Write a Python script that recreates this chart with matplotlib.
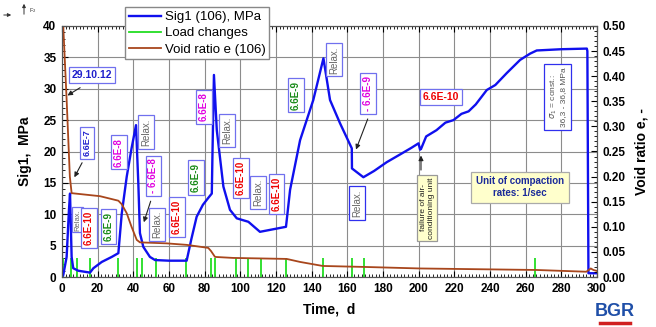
import matplotlib.pyplot as plt
from matplotlib.lines import Line2D
from matplotlib.ticker import MultipleLocator, FormatStrFormatter

plt.rcParams['font.family'] = ['Liberation Sans', 'DejaVu Sans']

# Sig1 (106), MPa
t_sig = [0, 0.7, 2.6, 3.9, 4.5, 5.4, 6.3, 9.1, 15.7, 17.6, 22.3, 27.9, 31.6,
         33.5, 36.3, 39.0, 41.5, 42.8, 43.7, 45.6, 49.3, 52.2, 60, 69.9,
         72.5, 75.5, 79, 82, 84, 84.4, 85.2, 86.8, 90.5, 94.2, 98, 104.5, 111,
         125.6, 127.9, 133.5, 140.9, 146.6, 150.3, 155.9, 162.5, 162.6, 169,
         175, 182.1, 190, 196, 199.9, 200.8, 201.3, 204.2, 210, 215, 219.5,
         224, 228, 232, 238.2, 243, 249.4, 256.9, 262.5, 266.2, 280, 294.3,
         294.6, 295.2, 300]
sig1 = [0, 0.3, 3.2, 10.7, 13.3, 3.2, 1.4, 1.0, 0.7, 1.4, 2.4, 3.2, 3.8,
        10.1, 16.0, 20.5, 24.2, 14.9, 7.0, 4.8, 3.2, 2.7, 2.6, 2.6,
        6.0, 9.6, 11.5, 12.6, 13.3, 20.0, 32.2, 23.4, 14.4, 10.7, 9.35, 8.8, 7.2,
        8.0, 13.9, 21.8, 28.2, 34.85, 28.2, 24.5, 20.5, 17.3, 15.9,
        16.9, 18.3, 19.6, 20.6, 21.3, 20.3, 20.4, 22.4, 23.4, 24.6, 25.0,
        26.0, 26.4, 27.5, 29.8, 30.6, 32.5, 34.6, 35.6, 36.1, 36.3, 36.4,
        36.0, 0.6, 0.6]

# void ratio e (106)
t_e = [0.7, 2.6, 4.4, 5.4, 21.3, 31.6, 33.5, 36.3, 39, 41.9, 43.7, 58.7,
       69.9, 82, 83.5, 85.8, 96, 126, 133.5, 146.2, 170, 200.8, 266, 294,
       296.5, 298, 300]
void_e = [0.5, 0.353, 0.2, 0.167, 0.161, 0.152, 0.145, 0.127, 0.1, 0.074,
          0.069, 0.067, 0.064, 0.058, 0.052, 0.040, 0.038, 0.036, 0.030,
          0.022, 0.020, 0.017, 0.014, 0.0105, 0.017, 0.014, 0.012]

# load changes
t_load = [0.7, 4.9, 8.6, 15.7, 31.6, 41.9, 44.7, 52.5, 69.5, 83.4, 85.8,
          97.6, 104.5, 111.6, 125.4, 146.2, 162.5, 169.5, 265.3]
load_h = 3.0

fig = plt.figure(figsize=(6.56, 3.27), dpi=100)
ax = fig.add_axes([62/656, 1-277/327, 535/656, 251/327])
ax2 = ax.twinx()

ax.vlines(t_load, 0, load_h, color='#22dd22', lw=1.3, zorder=3)
ax.plot(t_sig, sig1, color='#1010ee', lw=1.7, zorder=4)
ax2.plot(t_e, void_e, color='#a8461c', lw=1.3)

ax.set_xlim(0, 300)
ax.set_ylim(0, 40)
ax2.set_ylim(0, 0.5)
ax.xaxis.set_major_locator(MultipleLocator(20))
ax.xaxis.set_minor_locator(MultipleLocator(2))
ax.yaxis.set_major_locator(MultipleLocator(5))
ax.yaxis.set_minor_locator(MultipleLocator(1))
ax2.yaxis.set_major_locator(MultipleLocator(0.05))
ax2.yaxis.set_minor_locator(MultipleLocator(0.01))
ax2.yaxis.set_major_formatter(FormatStrFormatter('%.2f'))
ax.grid(True, which='major', color='#8c8c8c', lw=0.8)
ax.set_axisbelow(True)
for a in (ax, ax2):
    a.tick_params(which='both', direction='in', labelsize=8.5, pad=4)
    a.tick_params(which='major', length=4)
    a.tick_params(which='minor', length=2)
    for lab in a.get_xticklabels() + a.get_yticklabels():
        lab.set_fontweight('bold')
    for s in a.spines.values():
        s.set_color('#555555')
ax.tick_params(axis='x', which='both', top=True)

ax.set_xlabel('Time,  d', fontsize=10, fontweight='bold', labelpad=6)
ax.set_ylabel('Sig1,  MPa', fontsize=10, fontweight='bold', labelpad=8)
ax2.set_ylabel('Void ratio e, -', fontsize=10, fontweight='bold', labelpad=6)

handles = [Line2D([], [], color='#1010ee', lw=1.7),
           Line2D([], [], color='#22dd22', lw=1.3),
           Line2D([], [], color='#a8461c', lw=1.3)]
leg = ax2.legend(handles, ['Sig1 (106), MPa', 'Load changes', 'Void ratio e (106)'],
                 loc='upper left', bbox_to_anchor=(0.118, 1.076), fontsize=9.5,
                 fancybox=False, edgecolor='#888888', framealpha=1,
                 handlelength=2.4, borderpad=0.3, labelspacing=0.3,
                 handletextpad=0.3, borderaxespad=0)
leg.set_zorder(10)

box_edge = '#7070ee'


def label(x, y, s, color, rot=90, size=7, face='white', edge=box_edge,
          weight='bold', pad=0.3):
    ax2.text(x, y / 80, s, color=color, fontsize=size, fontweight=weight,
             rotation=rot, ha='center', va='center', zorder=6,
             bbox=dict(boxstyle='square,pad=%s' % pad, fc=face, ec=edge, lw=0.9))


def arrow(x0, y0, x1, y1):
    ax2.annotate('', xy=(x1, y1 / 80), xytext=(x0, y0 / 80),
                 arrowprops=dict(arrowstyle='-|>', color='#222222', lw=0.8,
                                 mutation_scale=7), zorder=6)


red, green, mag, grey, blue = '#ee0000', '#178a17', '#e000e0', '#666666', '#2020cc'

label(16.8, 32.2, '29.10.12', blue, rot=0, size=7.5)
arrow(11.5, 30.4, 1.7, 28.7)
label(14.0, 21.4, '6.6E-7', blue, size=6.5)
arrow(12.0, 18.6, 6.2, 15.5)
label(8.7, 9.1, 'Relax.', grey, size=5.5, weight='normal', pad=0.2)
label(15.1, 7.8, '6.6E-10', red)
label(26.1, 8.0, '6.6E-9', green)
label(32.0, 19.9, '6.6E-8', mag)
label(47.1, 23.1, 'Relax.', grey, weight='normal')
label(51.3, 16.1, '- 6.6E-8', mag)
arrow(50.2, 12.5, 45.4, 8.3)
label(53.3, 8.4, 'Relax.', grey, weight='normal')
label(64.5, 9.6, '6.6E-10', red)
label(75.2, 15.8, '6.6E-9', green)
label(79.6, 27.1, '6.6E-8', mag)
label(92.5, 23.3, 'Relax.', grey, weight='normal')
label(100.4, 15.8, '6.6E-10', red)
label(109.9, 13.5, 'Relax.', grey, weight='normal')
label(120.3, 13.2, '6.6E-10', red)
label(131.2, 29.0, '6.6E-9', green)
label(152.6, 34.6, 'Relax.', grey, weight='normal')
label(171.6, 29.3, '- 6.6E-9', mag)
arrow(172.0, 25.6, 164.3, 19.9)
label(165.5, 11.8, 'Relax.', grey, weight='normal', edge='#3030ee')
label(212.6, 28.7, '6.6E-10', red, rot=0, size=7.5)
label(204.7, 11.0, 'failure of air-\nconditioning unit', '#222222', size=6,
      face='#ffffcc', edge='#999999', weight='normal')
arrow(201.3, 16.6, 201.3, 19.8)
label(256.9, 14.3, 'Unit of compaction\nrates: 1/sec', '#1a2a9a', rot=0,
      size=7, face='#ffffcc', edge='#aaaaaa', pad=0.5)
label(278.2, 28.7, '$\\sigma_1$ = const.:\n36,3 - 36,8 MPa', '#555555', size=6,
      weight='normal', edge='#3030ee', pad=0.4)

# small corner marks and logo
ax.annotate('', xy=(24/656, 1-1/327), xytext=(24/656, 1-17/327),
            xycoords='figure fraction',
            arrowprops=dict(arrowstyle='-|>', color='#333333', lw=0.7, mutation_scale=5))
ax.annotate('', xy=(14/656, 1-15/327), xytext=(1/656, 1-15/327),
            xycoords='figure fraction',
            arrowprops=dict(arrowstyle='-|>', color='#333333', lw=0.7, mutation_scale=5))
fig.text(33/656, 1-11/327, 'F$_2$', fontsize=4, color='#333333', ha='center', va='center')
fig.text(615/656, 1-312/327, 'BGR', fontsize=13, fontweight='bold',
         color='#1f4fa8', ha='center', va='center')
fig.add_artist(Line2D([600/656, 630/656], [1-323/327, 1-323/327], color='#d02020', lw=2.5))

fig.savefig('out.png', dpi=100)
